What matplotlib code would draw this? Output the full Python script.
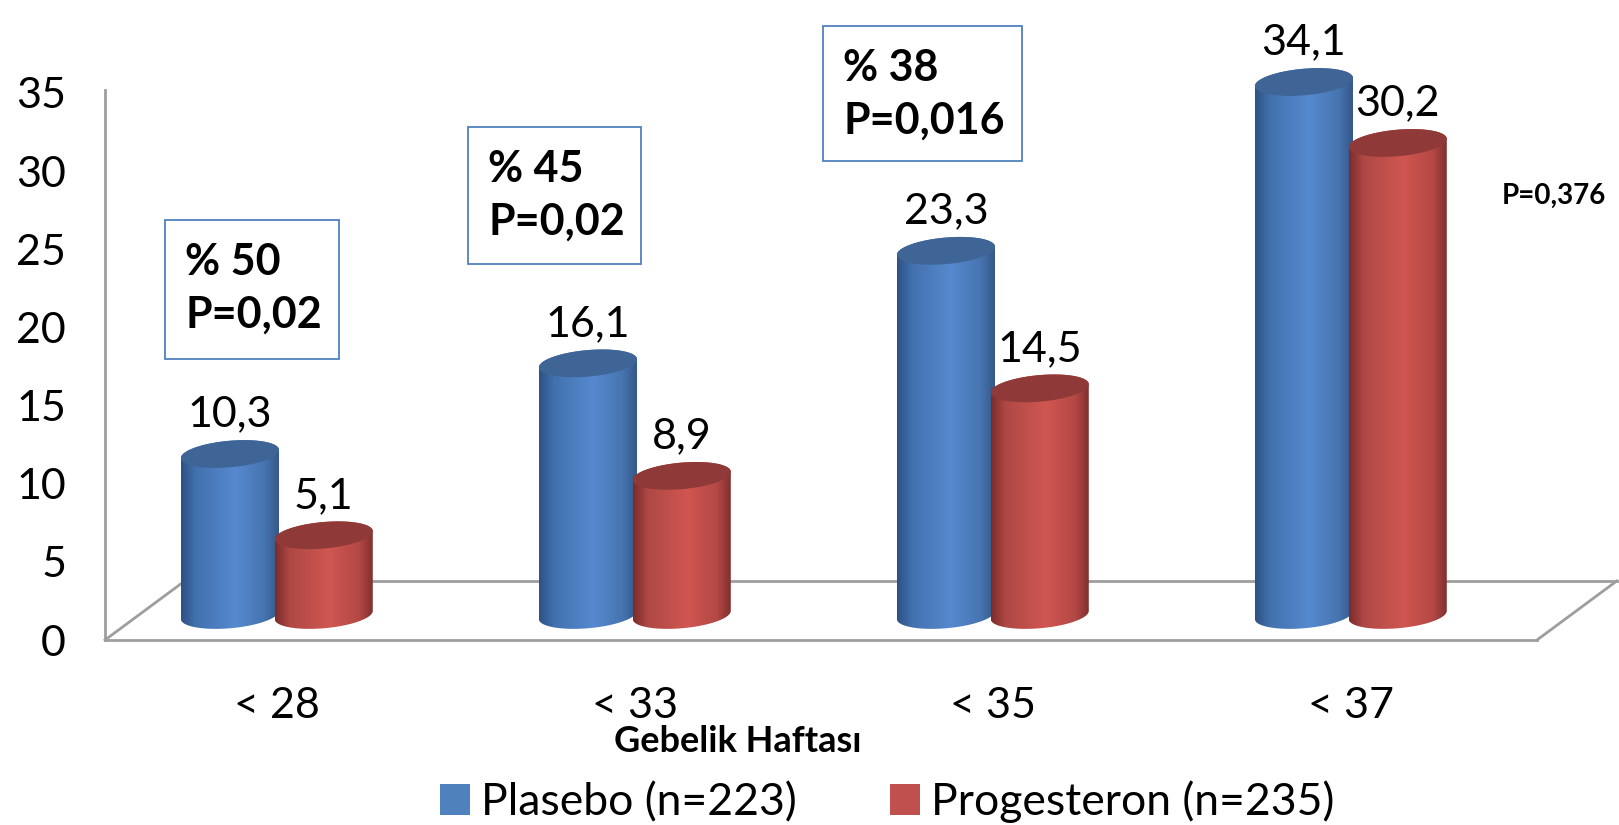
import numpy as np
import matplotlib
matplotlib.use("Agg")
import matplotlib.pyplot as plt
from matplotlib.colors import LinearSegmentedColormap
from matplotlib.patches import PathPatch, Rectangle, Patch
from matplotlib.path import Path

plt.rcParams['font.family'] = ['Lato', 'DejaVu Sans']

# data
categories = ["< 28", "< 33", "< 35", "< 37"]
plasebo = [10.3, 16.1, 23.3, 34.1]
progesteron = [5.1, 8.9, 14.5, 30.2]
series_names = ["Plasebo (n=223)", "Progesteron (n=235)"]
box_pct = ["% 50", "% 45", "% 38"]
box_p = ["P=0,02", "P=0,02", "P=0,016"]
last_p = "P=0,376"

W, H = 1619, 825
fig = plt.figure(figsize=(W / 100, H / 100), dpi=100)

# axes: x in category units, y in percent; floor front edge at y=0
x0, x1 = 105, 1537
y0 = 640
ppu = 15.63  # pixels per unit on the y axis
ymax = 38
ax = fig.add_axes([x0 / W, (H - y0) / H, (x1 - x0) / W, ymax * ppu / H])
ax.set_xlim(0, 4)
ax.set_ylim(0, ymax)
for s in ax.spines.values():
    s.set_visible(False)
ax.patch.set_alpha(0)

grid_c = "#9E9E9E"
depth_x, depth_y = 0.223, 3.78
# 3d floor and the value axis line
ax.plot([0, 0], [0, 35.2], color=grid_c, lw=2, clip_on=False, zorder=1)
ax.plot([0, 4], [0, 0], color=grid_c, lw=2, clip_on=False, zorder=1)
ax.plot([0, depth_x], [0, depth_y], color=grid_c, lw=2, clip_on=False, zorder=1)
ax.plot([depth_x, 4 + depth_x], [depth_y, depth_y], color=grid_c, lw=2, clip_on=False, zorder=1)
ax.plot([4, 4 + depth_x], [0, depth_y], color=grid_c, lw=2, clip_on=False, zorder=1)

blue_cmap = LinearSegmentedColormap.from_list("b", [
    (0.0, "#2E5183"), (0.15, "#4271AE"), (0.55, "#5689CF"),
    (0.85, "#4674AF"), (1.0, "#335685")])
red_cmap = LinearSegmentedColormap.from_list("r", [
    (0.0, "#7A2C2A"), (0.15, "#AF4845"), (0.55, "#D05651"),
    (0.85, "#B44845"), (1.0, "#7C2F2D")])
blue_top = "#3E6595"
red_top = "#8F3A38"

base = 1.6     # cylinders stand on the middle of the floor
hw = 0.137     # half width of a cylinder
eb = 0.85      # vertical half axis of the ellipses
es = 0.26      # tilt of the ellipses
grad = np.linspace(0, 1, 256).reshape(1, -1)


def cylinder(cx, val, cmap, top_color, z):
    yb, yt = base, base + val
    t = np.linspace(0, np.pi, 80)
    upper = np.c_[cx + hw * np.cos(t), yt + eb * np.sin(t) + es * np.cos(t)]
    t2 = np.linspace(np.pi, 2 * np.pi, 80)
    lower = np.c_[cx + hw * np.cos(t2), yb + eb * np.sin(t2) + es * np.cos(t2)]
    verts = np.vstack([upper, lower, upper[:1]])
    body = PathPatch(Path(verts), facecolor="none", edgecolor="none", clip_on=False)
    ax.add_patch(body)
    im = ax.imshow(grad, cmap=cmap, aspect="auto", origin="lower",
                   extent=[cx - hw, cx + hw, yb - eb - es - 0.2, yt + eb + es + 0.2],
                   zorder=z, interpolation="bilinear")
    im.set_clip_path(body)
    t3 = np.linspace(0, 2 * np.pi, 160)
    ax.fill(cx + hw * np.cos(t3), yt + eb * np.sin(t3) + es * np.cos(t3),
            color=top_color, lw=0, zorder=z + 0.5, clip_on=False)
    ax.text(cx, yt + 1.75, f"{val:.1f}".replace(".", ","), ha="center",
            va="baseline", fontsize=31, zorder=z + 1)


xc = np.arange(len(categories)) + 0.48
off = 0.131
z = 3
for i in range(len(categories)):
    cylinder(xc[i] - off, plasebo[i], blue_cmap, blue_top, z)
    cylinder(xc[i] + off, progesteron[i], red_cmap, red_top, z + 2)
    z += 4

ax.set_xlim(0, 4)
ax.set_ylim(0, ymax)
ax.set_yticks(range(0, 36, 5))
ax.set_xticks(xc, categories)
ax.tick_params(axis="y", length=0, pad=28, labelsize=31)
ax.tick_params(axis="x", length=0, pad=34, labelsize=31)

fig.text(738 / W, 1 - 741 / H, "Gebelik Haftası", ha="center", va="center",
         fontsize=26, fontweight="bold")

# reduction boxes above the first three groups
boxes = [(165, 220, 339, 359), (468, 127, 641, 264), (823, 26, 1022, 161)]
for (l, t, r, b), pct, p in zip(boxes, box_pct, box_p):
    fig.patches.append(Rectangle((l / W, 1 - b / H), (r - l) / W, (b - t) / H,
                                 transform=fig.transFigure, fill=False,
                                 edgecolor="#4F81BD", lw=1.3))
    fig.text((l + 20) / W, 1 - (t + 42) / H, pct, ha="left", va="center",
             fontsize=31, fontweight="bold")
    fig.text((l + 20) / W, 1 - (t + 95) / H, p, ha="left", va="center",
             fontsize=31, fontweight="bold")

fig.text(1502 / W, 1 - 196 / H, last_p, ha="left", va="center",
         fontsize=20, fontweight="bold")

handles = [Patch(facecolor="#4F81BD"), Patch(facecolor="#C0504D")]
fig.legend(handles, series_names, loc="center", bbox_to_anchor=(0.548, 0.028),
           ncol=2, frameon=False, fontsize=32, handlelength=0.68,
           handleheight=0.68, handletextpad=0.25, columnspacing=2.1,
           borderpad=0, borderaxespad=0)

fig.savefig("out.png", dpi=100)
